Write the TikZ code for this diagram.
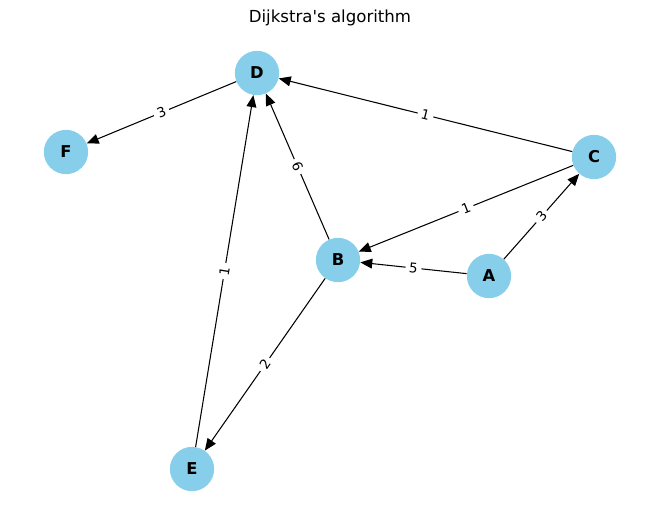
\documentclass[tikz,border=0pt]{standalone}
\usepackage{fontspec}
\newfontfamily\dejavu{DejaVu Sans}
\usetikzlibrary{arrows.meta}
\definecolor{celeste}{HTML}{87CEEB}
\tikzset{
    vert/.style={circle, fill=celeste, minimum size=31.5pt, inner sep=0pt,
        font=\dejavu\fontsize{11.6}{12}\selectfont\bfseries},
    arista/.style={line width=0.75pt, -{Triangle[length=8.5pt, width=7pt]}},
    peso/.style={midway, sloped, fill=white, inner xsep=2.6pt, inner ysep=1.5pt,
        font=\dejavu\fontsize{9.6}{10}\selectfont}
}
\begin{document}
\begin{tikzpicture}[x=0.025cm, y=-0.025cm]
            \useasboundingbox (0,0) rectangle (660,522);
            % Titulo
            \node[font=\dejavu\fontsize{11.8}{12}\selectfont] (titulo) at (330,18) {Dijkstra's algorithm};
            % Vertices
            \foreach \n/\xi/\yi in {
                D/257/73, F/66/152, C/594/157,
                B/338/260, A/489/276, E/192/469}{
                \node[vert] (\n) at (\xi,\yi) {\n};
            }
            % Aristas con pesos
            \foreach \u/\v/\w in {
                D/F/3, C/D/1, C/B/1, B/D/6,
                A/B/5, A/C/3, B/E/2, E/D/1}{
                \draw[arista] (\u) -- node[peso] {\w} (\v);
            }
        \end{tikzpicture}
\end{document}
